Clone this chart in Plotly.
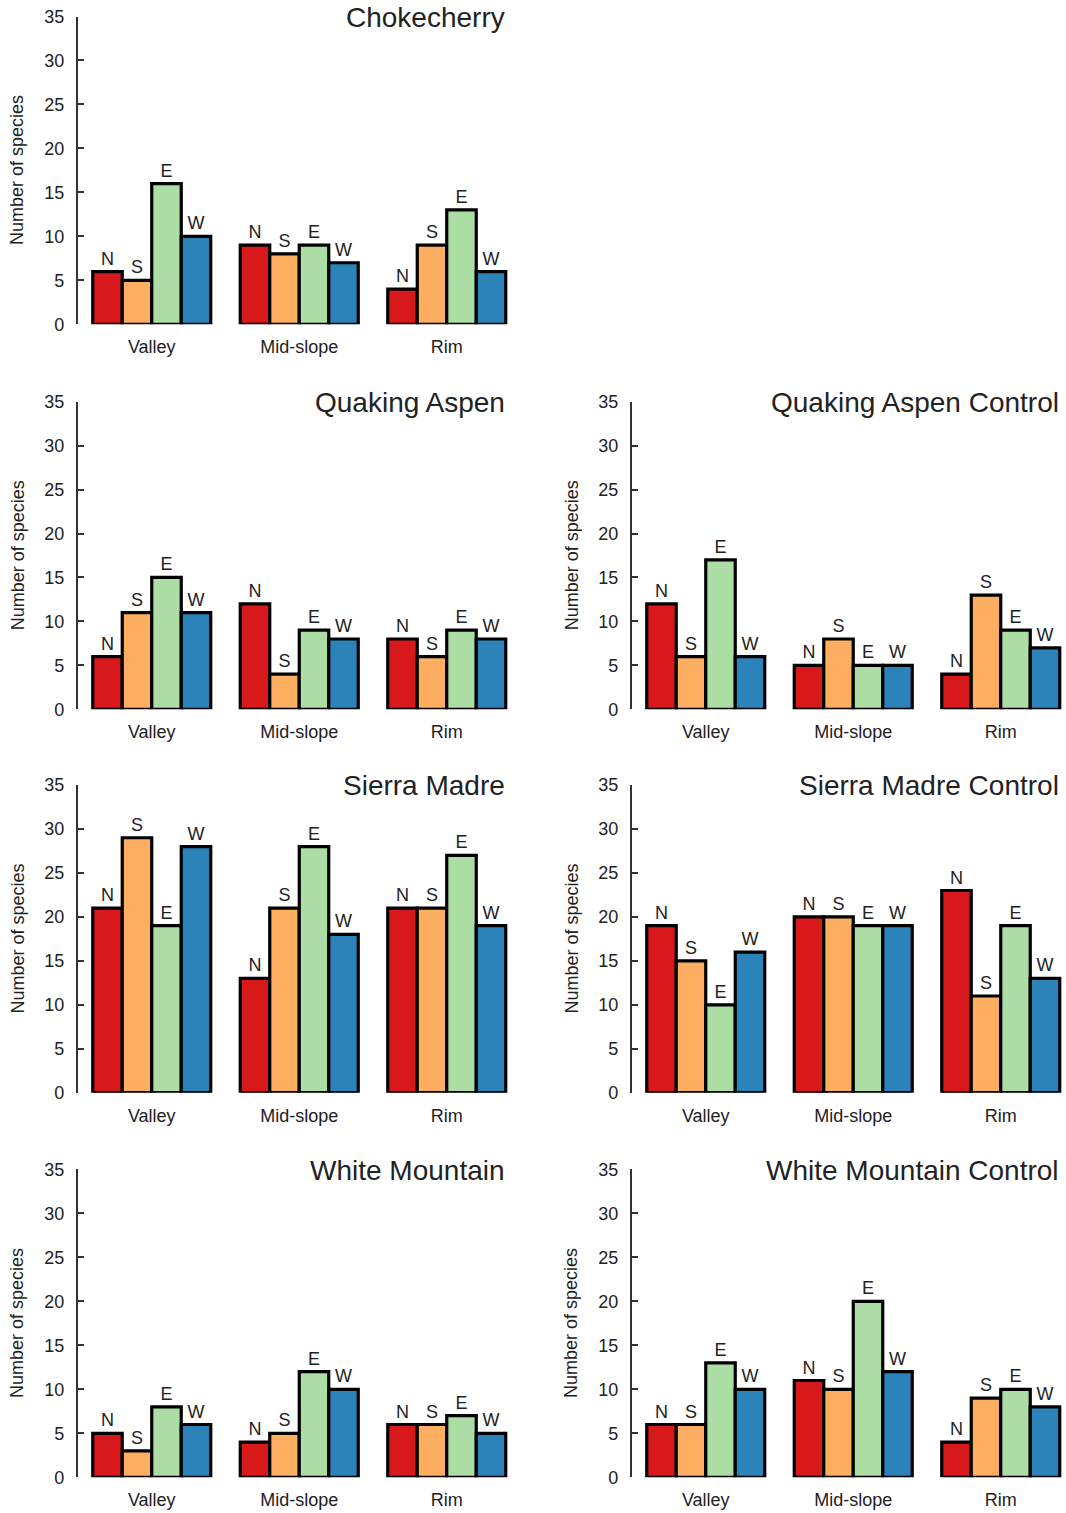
import plotly.graph_objects as go

sites = ["Valley", "Mid-slope", "Rim"]
aspects = ["N", "S", "E", "W"]
aspect_colors = ["#D7191C", "#FDAE61", "#ABDDA4", "#2B83BA"]
y_ticks = [0, 5, 10, 15, 20, 25, 30, 35]

# values per site (rows) and aspect N, S, E, W (columns)
chokecherry = [[6, 5, 16, 10], [9, 8, 9, 7], [4, 9, 13, 6]]
quaking_aspen = [[6, 11, 15, 11], [12, 4, 9, 8], [8, 6, 9, 8]]
quaking_aspen_control = [[12, 6, 17, 6], [5, 8, 5, 5], [4, 13, 9, 7]]
sierra_madre = [[21, 29, 19, 28], [13, 21, 28, 18], [21, 21, 27, 19]]
sierra_madre_control = [[19, 15, 10, 16], [20, 20, 19, 19], [23, 11, 19, 13]]
white_mountain = [[5, 3, 8, 6], [4, 5, 12, 10], [6, 6, 7, 5]]
white_mountain_control = [[6, 6, 13, 10], [11, 10, 20, 12], [4, 9, 10, 8]]

panels = [
    ("Chokecherry", chokecherry, 0, 0),
    ("Quaking Aspen", quaking_aspen, 1, 0),
    ("Quaking Aspen Control", quaking_aspen_control, 1, 1),
    ("Sierra Madre", sierra_madre, 2, 0),
    ("Sierra Madre Control", sierra_madre_control, 2, 1),
    ("White Mountain", white_mountain, 3, 0),
    ("White Mountain Control", white_mountain_control, 3, 1),
]

W, H = 1066, 1513
col_px = [(77.7, 508.7), (631.7, 1062.7)]
row_px = [(16.5, 324.3), (401.7, 709.3), (785.0, 1092.7), (1169.3, 1477.3)]
FONT = "Liberation Sans, Arial, Helvetica, sans-serif"

fig = go.Figure()
layout = dict(
    width=W, height=H,
    margin=dict(l=0, r=0, t=0, b=0, pad=0),
    paper_bgcolor="white", plot_bgcolor="white",
    showlegend=False,
    barmode="group", bargap=0.2, bargroupgap=0,
    font=dict(family=FONT, size=18, color="#222222"),
)
annotations = []

for k, (title, vals, r, c) in enumerate(panels):
    n = k + 1
    xa = "x" if n == 1 else f"x{n}"
    ya = "y" if n == 1 else f"y{n}"
    for j, asp in enumerate(aspects):
        fig.add_trace(go.Bar(
            x=sites,
            y=[vals[i][j] for i in range(len(sites))],
            text=[asp] * len(sites),
            textposition="outside",
            textfont=dict(size=18, color="#222222", family=FONT),
            constraintext="none",
            cliponaxis=False,
            marker=dict(color=aspect_colors[j], line=dict(color="black", width=3.2)),
            xaxis=xa, yaxis=ya,
            hoverinfo="skip",
        ))
    x0, x1 = col_px[c]
    t0, b0 = row_px[r]
    xd = [x0 / W, x1 / W]
    yd = [1 - b0 / H, 1 - t0 / H]
    layout["xaxis" if n == 1 else f"xaxis{n}"] = dict(
        domain=xd, anchor=ya, type="category",
        categoryorder="array", categoryarray=sites,
        range=[-0.502, 2.42], automargin=False,
        showline=False, showgrid=False, zeroline=False, ticks="",
        tickfont=dict(size=18, family=FONT, color="#222222"),
        ticklabelstandoff=10,
    )
    layout["yaxis" if n == 1 else f"yaxis{n}"] = dict(
        domain=yd, anchor=xa, range=[0, 35], automargin=False,
        tickvals=y_ticks,
        showline=True, linecolor="#333333", linewidth=1.5,
        ticks="inside", ticklen=7, tickcolor="#333333", tickwidth=1.5,
        showgrid=False, zeroline=False,
        tickfont=dict(size=18, family=FONT, color="#222222"),
        ticklabelstandoff=8,
    )
    annotations.append(dict(
        text=title, xref=f"{xa} domain", yref=ya,
        x=1, y=35, xanchor="right", yanchor="middle", xshift=-2, yshift=-1,
        showarrow=False, font=dict(size=28, family=FONT, color="#222222"),
    ))
    annotations.append(dict(
        text="Number of species", xref="paper", yref=f"{ya} domain",
        x=(x0 - 60) / W, y=0.5, xanchor="center", yanchor="middle",
        textangle=-90, showarrow=False,
        font=dict(size=18, family=FONT, color="#222222"),
    ))

layout["annotations"] = annotations
fig.update_layout(**layout)

post = (
    "document.documentElement.style.margin='0';"
    "document.documentElement.style.overflow='hidden';"
    "document.body.style.margin='0';"
    "document.body.style.overflow='hidden';"
    "var d=document.getElementById('{plot_id}');"
    "d.style.position='absolute';d.style.left='0px';d.style.top='0px';"
)
fig.write_html("out.html", post_script=post, config={"displayModeBar": False})
